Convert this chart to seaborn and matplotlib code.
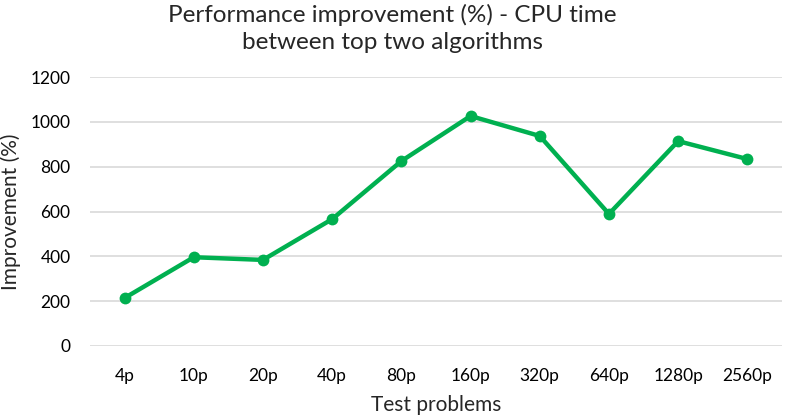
import matplotlib
matplotlib.use("Agg")
import matplotlib.pyplot as plt
import seaborn as sns
import pandas as pd

# values
problems = ["4p", "10p", "20p", "40p", "80p", "160p", "320p", "640p", "1280p", "2560p"]
improvement = [214, 396, 384, 566, 825, 1026, 937, 589, 914, 834]

df = pd.DataFrame({"problem": problems, "improvement": improvement})

sns.set_theme(style="white")
plt.rcParams['font.family'] = ['Lato', 'DejaVu Sans']

fig = plt.figure(figsize=(7.85, 4.17), dpi=100)
ax = fig.add_axes([0.1146, 0.1703, 0.8815, 0.645])

green = "#00B050"
sns.lineplot(data=df, x="problem", y="improvement", ax=ax, color=green,
             linewidth=3.2, marker="o", markersize=8.5, markeredgewidth=0,
             sort=False)

ax.set_ylim(0, 1200)
ax.set_yticks(range(0, 1201, 200))
ax.set_xlim(-0.5, len(problems) - 0.5)
ax.yaxis.grid(True, color="#D9D9D9", linewidth=1.2)
ax.set_axisbelow(True)
for s in ax.spines.values():
    s.set_visible(False)
ax.tick_params(axis="both", length=0, labelsize=12.5, colors="#000000")
ax.tick_params(axis="x", pad=16)
ax.tick_params(axis="y", pad=14)

ax.set_xlabel("Test problems", fontsize=15, labelpad=8)
ax.set_ylabel("Improvement (%)", fontsize=15)
ax.yaxis.set_label_coords(-0.099, 0.5)
fig.suptitle("Performance improvement (%) - CPU time\nbetween top two algorithms",
             fontsize=17.5, y=0.99, linespacing=1.32)

fig.savefig("out.png", dpi=100)
